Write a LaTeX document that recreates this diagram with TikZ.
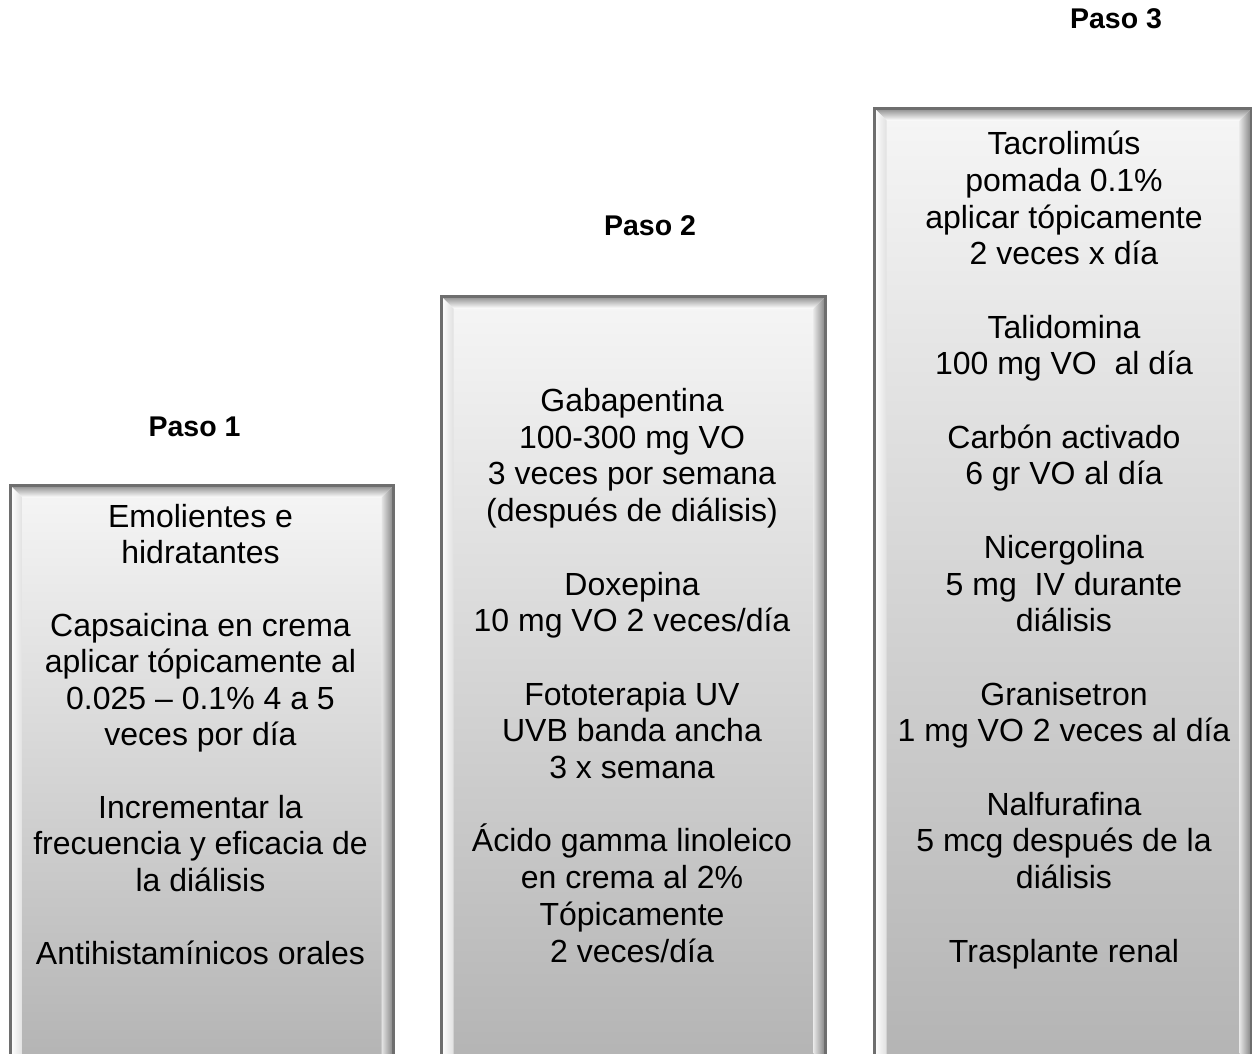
\documentclass[tikz,border=0pt]{standalone}
\usepackage{fontspec}
\setmainfont{Liberation Sans}
\usetikzlibrary{calc}
\definecolor{bordergray}{HTML}{6E6E6E}
\pgfdeclareverticalshading{boxshade}{100bp}{color(0bp)=(black!40); color(20bp)=(black!32); color(55bp)=(black!14); color(82bp)=(white); color(100bp)=(white)}
\tikzset{
  box/.style={draw=bordergray, line width=3pt, shading=boxshade, inner sep=0pt, anchor=north west,
    path picture={
      \coordinate (pNW) at (path picture bounding box.north west);
      \coordinate (pNE) at (path picture bounding box.north east);
      \coordinate (pSW) at (path picture bounding box.south west);
      \coordinate (pSE) at (path picture bounding box.south east);
      \shade[top color=black!45, bottom color=white] (pNW) -- (pNE) -- ($(pNE)+(-12,12)$) -- ($(pNW)+(12,12)$) -- cycle;
      \shade[left color=white, right color=black!12] (pNW) -- ($(pNW)+(12,12)$) -- ($(pSW)+(12,0)$) -- (pSW) -- cycle;
      \shade[left color=black!10, right color=black!50] (pNE) -- (pSE) -- ($(pSE)+(-12,0)$) -- ($(pNE)+(-12,12)$) -- cycle;
    }},
  txt/.style={align=center, inner sep=0pt, anchor=base, font=\fontsize{32}{36.7}\selectfont},
  txtA/.style={align=center, inner sep=0pt, anchor=base, font=\fontsize{32}{36.4}\selectfont},
  paso/.style={inner sep=0pt, anchor=base, font=\fontsize{28.5}{32}\selectfont\bfseries}
}
\begin{document}
\begin{tikzpicture}[x=1pt,y=-1pt]
\useasboundingbox[fill=white] (0,0) rectangle (1252,1053);

\node[box, minimum width=383pt, minimum height=575pt] (b1) at (9,484) {};
\node[box, minimum width=384pt, minimum height=765pt] (b2) at (440,295) {};
\node[box, minimum width=377pt, minimum height=953pt] (b3) at (873,107) {};

\node[paso] (p1) at (194.5,436) {Paso 1};
\node[paso] (p2) at (650,235) {Paso 2};
\node[paso] (p3) at (1116,28) {Paso 3};

\node[txtA] (t1) at (200.5,964) {Emolientes e\\hidratantes\\[36.4pt]
Capsaicina en crema\\aplicar tópicamente al\\0.025 – 0.1\% 4 a 5\\veces por día\\[36.4pt]
Incrementar la\\frecuencia y eficacia de\\la diálisis\\[36.4pt]
Antihistamínicos orales};

\node[txt] (t2) at (632,962) {Gabapentina\\100-300 mg VO\\3 veces por semana\\(después de diálisis)\\[36.7pt]
Doxepina\\10 mg VO 2 veces/día\\[36.7pt]
Fototerapia UV\\UVB banda ancha\\3 x semana\\[36.7pt]
Ácido gamma linoleico\\en crema al 2\%\\Tópicamente\\2 veces/día};

\node[txt] (t3) at (1064,962) {Tacrolimús\\pomada 0.1\%\\aplicar tópicamente\\2 veces x día\\[36.7pt]
Talidomina\\100 mg VO\ \ al día\\[36.7pt]
Carbón activado\\6 gr VO al día\\[36.7pt]
Nicergolina\\5 mg\ \ IV durante\\diálisis\\[36.7pt]
Granisetron\\1 mg VO 2 veces al día\\[36.7pt]
Nalfurafina\\5 mcg después de la\\diálisis\\[36.7pt]
Trasplante renal};
\end{tikzpicture}
\end{document}
